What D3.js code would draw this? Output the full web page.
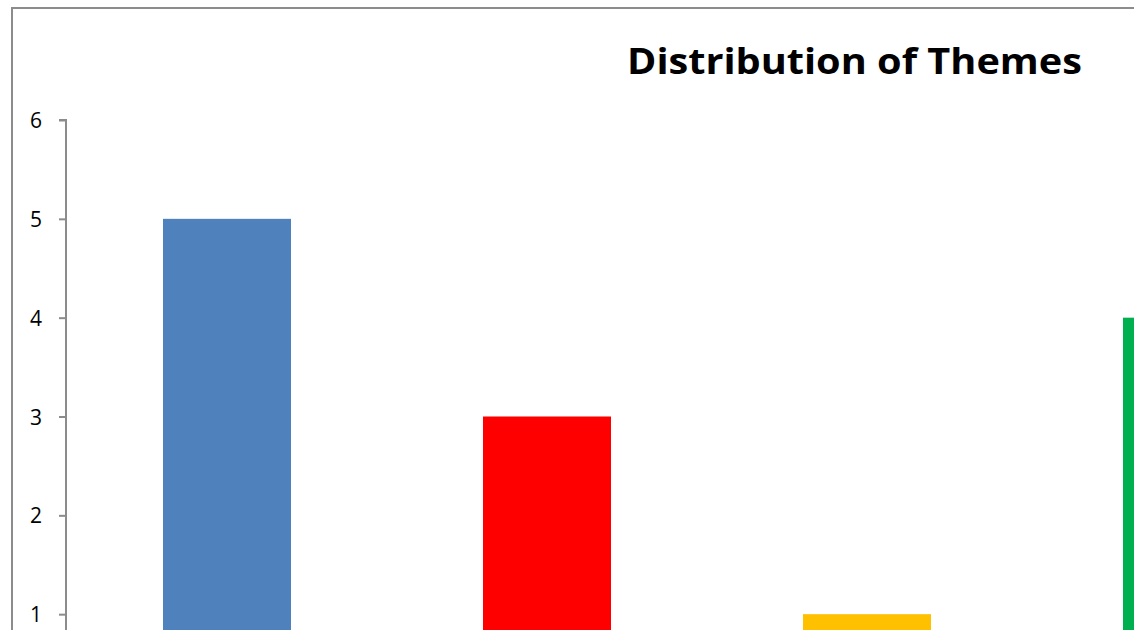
<!DOCTYPE html>
<html><head><meta charset="utf-8">
<script src="https://cdn.jsdelivr.net/npm/d3@7"></script>
<style>body{margin:0;background:#fff}svg{display:block}</style>
</head><body>
<script>
const categories = ["Theme A", "Theme B", "Theme C", "Theme D"];
const values = [5, 3, 1, 4];
const colors = ["#4F81BD", "#FF0000", "#FFC000", "#00B050"];
const tickValues = [1, 2, 3, 4, 5, 6];
const title = "Distribution of Themes";

const W = 1134, H = 630;
const svg = d3.select("body").append("svg").attr("width", W).attr("height", H);

// outer chart frame (extends beyond the visible crop)
svg.append("rect").attr("x", 12).attr("y", 8).attr("width", W + 40).attr("height", H + 40)
  .attr("fill", "#fff").attr("stroke", "#8c8c8c").attr("stroke-width", 2);

const x0 = 66, bandW = 320;
const x = d3.scaleBand().domain(categories).range([x0 + 1, x0 + 1 + bandW * categories.length])
  .paddingInner(0.6).paddingOuter(0.3);
const y = d3.scaleLinear().domain([0, 6]).range([713, 120]);

svg.selectAll("rect.bar").data(values).join("rect").attr("class", "bar")
  .attr("x", (d, i) => x(categories[i]))
  .attr("width", x.bandwidth())
  .attr("y", d => y(d))
  .attr("height", d => y(0) - y(d))
  .attr("fill", (d, i) => colors[i]);

const axis = d3.axisLeft(y).tickValues(tickValues).tickSize(7).tickPadding(17).tickFormat(d3.format("d"));
const g = svg.append("g").attr("transform", `translate(${x0},0)`).call(axis);
g.attr("font-size", 21).attr("font-family", "'Open Sans', sans-serif");
g.select(".domain").attr("stroke", "#8c8c8c").attr("stroke-width", 2).attr("d", `M-7,${y(6)}H0V${H + 10}`);
g.selectAll(".tick line").attr("stroke", "#8c8c8c").attr("stroke-width", 2);
g.selectAll(".tick text").attr("fill", "#000").attr("dy", "0.36em");

svg.append("text").attr("x", 1082).attr("y", 74).attr("text-anchor", "end")
  .style("font-family", "'Open Sans', sans-serif").style("font-weight", "bold").style("font-size", "35px")
  .attr("textLength", 455).attr("lengthAdjust", "spacingAndGlyphs")
  .text(title);
</script>
</body></html>
